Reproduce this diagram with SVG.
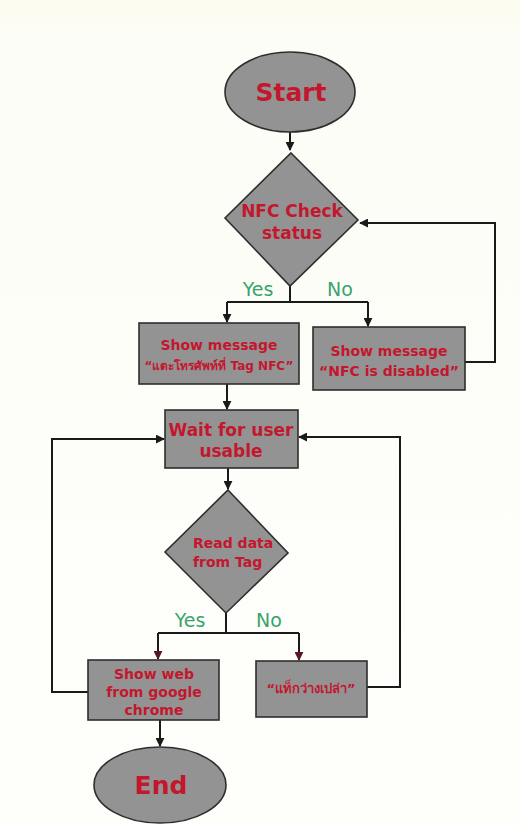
<svg xmlns="http://www.w3.org/2000/svg" width="520" height="825" viewBox="0 0 520 825">
<defs>
<marker id="ah" viewBox="0 0 10 10" refX="9" refY="5" markerWidth="9" markerHeight="9" markerUnits="userSpaceOnUse" orient="auto"><path d="M0,0 L10,5 L0,10 z" fill="#1a1a1a"/></marker>
<marker id="ahr" viewBox="0 0 10 10" refX="9" refY="5" markerWidth="9" markerHeight="9" markerUnits="userSpaceOnUse" orient="auto"><path d="M0,0 L10,5 L0,10 z" fill="#5a1622"/></marker>
<linearGradient id="bg" x1="0" y1="0" x2="0" y2="1"><stop offset="0" stop-color="#fbfbef"/><stop offset="0.05" stop-color="#fdfdf7"/><stop offset="1" stop-color="#fefefb"/></linearGradient>
</defs>
<style>
.sh{fill:#939393;stroke:#2e2e2e;stroke-width:1.6}
.t{font-family:"DejaVu Sans","Noto Sans","Liberation Sans",sans-serif;font-weight:bold;fill:#c3172e;text-anchor:middle}
.ts{text-anchor:start}
.yn{font-family:"DejaVu Sans","Liberation Sans",sans-serif;font-weight:normal;fill:#3aa36c;font-size:19px;text-anchor:middle}
.c{fill:none;stroke:#1a1a1a;stroke-width:2}
</style>
<rect width="520" height="825" fill="url(#bg)"/>
<g id="connectors">
<path class="c" d="M290,132 V150" marker-end="url(#ah)"/>
<path class="c" d="M290,286 V302 M227,302 H368"/>
<path class="c" d="M227,302 V322" marker-end="url(#ah)"/>
<path class="c" d="M368,302 V326" marker-end="url(#ah)"/>
<path class="c" d="M465,362 H495 V223 H360" marker-end="url(#ah)"/>
<path class="c" d="M227,384 V409" marker-end="url(#ah)"/>
<path class="c" d="M228,468 V489" marker-end="url(#ah)"/>
<path class="c" d="M226,613 V633 M158,633 H299"/>
<path class="c" d="M158,633 V659" marker-end="url(#ahr)"/>
<path class="c" d="M299,633 V660" marker-end="url(#ahr)"/>
<path class="c" d="M88,692 H52 V439 H164" marker-end="url(#ah)"/>
<path class="c" d="M367,687 H400 V437 H299" marker-end="url(#ah)"/>
<path class="c" d="M160,720 V746" marker-end="url(#ah)"/>
</g>
<g id="start">
<ellipse class="sh" cx="290" cy="92" rx="65" ry="40"/>
<text class="t" x="291" y="101" font-size="25">Start</text>
</g>
<g id="nfc-check">
<polygon class="sh" points="291,153 358,220 290,286 225,218"/>
<text class="t" x="292" y="217" font-size="17">NFC Check</text>
<text class="t" x="292" y="239" font-size="17">status</text>
</g>
<text class="yn" x="258" y="296">Yes</text>
<text class="yn" x="340" y="296">No</text>
<g id="show-tag">
<rect class="sh" x="139" y="323" width="160" height="61"/>
<text class="t" x="219" y="350" font-size="14">Show message</text>
<text class="t" x="219" y="370" font-size="12">“แตะโทรศัพท์ที่ Tag NFC”</text>
</g>
<g id="show-disabled">
<rect class="sh" x="313" y="327" width="152" height="63"/>
<text class="t" x="389" y="356" font-size="14">Show message</text>
<text class="t" x="389" y="376" font-size="14">“NFC is disabled”</text>
</g>
<g id="wait">
<rect class="sh" x="165" y="410" width="133" height="58"/>
<text class="t" x="231" y="436" font-size="17">Wait for user</text>
<text class="t" x="231" y="457" font-size="17">usable</text>
</g>
<g id="read">
<polygon class="sh" points="228,490 288,553 226,613 165,552"/>
<text class="t ts" x="193" y="548" font-size="14">Read data</text>
<text class="t ts" x="193" y="567" font-size="14">from Tag</text>
</g>
<text class="yn" x="190" y="627">Yes</text>
<text class="yn" x="269" y="627">No</text>
<g id="show-web">
<rect class="sh" x="88" y="660" width="131" height="60"/>
<text class="t" x="154" y="679" font-size="14">Show web</text>
<text class="t" x="154" y="697" font-size="14">from google</text>
<text class="t" x="154" y="715" font-size="14">chrome</text>
</g>
<g id="tag-empty">
<rect class="sh" x="256" y="661" width="111" height="56"/>
<text class="t" x="311" y="693" font-size="13">“แท็กว่างเปล่า”</text>
</g>
<g id="end">
<ellipse class="sh" cx="160" cy="785" rx="66" ry="38"/>
<text class="t" x="161" y="794" font-size="25">End</text>
</g>
</svg>
